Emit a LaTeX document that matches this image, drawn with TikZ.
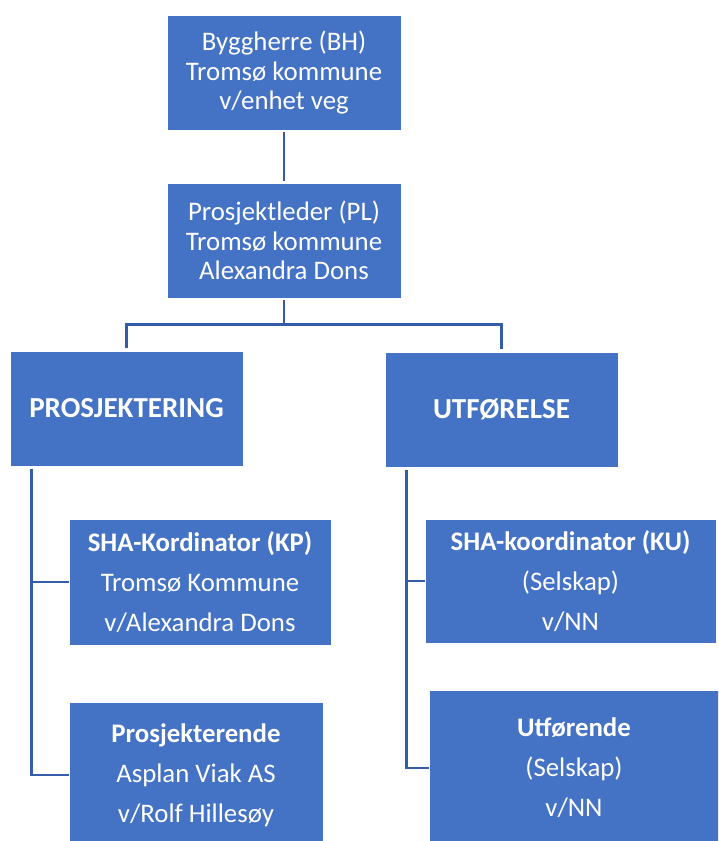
\documentclass[tikz,border=0pt]{standalone}
\usepackage{fontspec}
\setmainfont{Carlito}
\usepackage{tikz}
\usetikzlibrary{positioning, calc}
\definecolor{boxblue}{RGB}{68, 114, 196}
\definecolor{lineblue}{RGB}{52, 92, 168}

\begin{document}
\begin{tikzpicture}[x=1pt, y=-1pt,
    orgbox/.style={rectangle, draw=white, line width=0.8pt, fill=boxblue, text=white, align=center, inner sep=0pt},
    topfont/.style={font=\fontsize{26.8}{29.5}\selectfont},
    subfont/.style={font=\fontsize{26.8}{40}\selectfont},
    headfont/.style={font=\fontsize{29}{33}\selectfont\bfseries},
    link/.style={draw=lineblue, line width=2.5pt}]
    \useasboundingbox (0,0) rectangle (718,841);
    \clip (0,0) rectangle (718,841);

    % Byggherre and prosjektleder
    \node[orgbox, topfont, minimum width=234pt, minimum height=115pt] (bh) at (284,72.5) {Byggherre (BH)\\Tromsø kommune\\v/enhet veg};
    \node[orgbox, topfont, minimum width=234pt, minimum height=115pt] (pl) at (284,240.5) {Prosjektleder (PL)\\Tromsø kommune\\Alexandra Dons};

    % Two main phases
    \node[orgbox, headfont, minimum width=233pt, minimum height=115pt] (prosj) at (126.5,408.5) {PROSJEKTERING};
    \node[orgbox, headfont, minimum width=233pt, minimum height=115pt] (utf) at (501.5,409.5) {UTFØRELSE};

    % Prosjektering branch
    \node[orgbox, subfont, minimum width=262pt, minimum height=126pt] (kp) at (200,582) {\textbf{SHA-Kordinator (KP)}\\Tromsø Kommune\\v/Alexandra Dons};
    \node[orgbox, subfont, minimum width=254pt, minimum height=146pt] (pros) at (196,775) {\textbf{Prosjekterende}\\Asplan Viak AS\\v/Rolf Hillesøy};

    % Utforelse branch
    \node[orgbox, subfont, minimum width=291pt, minimum height=124pt] (ku) at (570.5,581) {\textbf{SHA-koordinator (KU)}\\(Selskap)\\v/NN};
    \node[orgbox, subfont, minimum width=290pt, minimum height=156pt] (ut) at (574,768) {\textbf{Utførende}\\(Selskap)\\v/NN};

    % Connectors
    \draw[link, shorten <=2pt, shorten >=2pt] (bh) -- (pl);
    \coordinate (split) at ($(pl.south)+(0,26)$);
    \draw[link, shorten <=2pt] (pl.south) -- (split);
    \draw[link, shorten >=3pt] (split) -| (prosj.north);
    \draw[link, shorten >=3pt] (split) -| (utf.north);

    \coordinate (ptrunk) at ($(prosj.south west)+(22,3)$);
    \draw[link] (ptrunk) |- (kp.west);
    \draw[link] (ptrunk) |- (pros.west);
    \coordinate (utrunk) at ($(utf.south west)+(22,3)$);
    \draw[link] (utrunk) |- (ku.west);
    \draw[link] (utrunk) |- (ut.west);
\end{tikzpicture}
\end{document}
